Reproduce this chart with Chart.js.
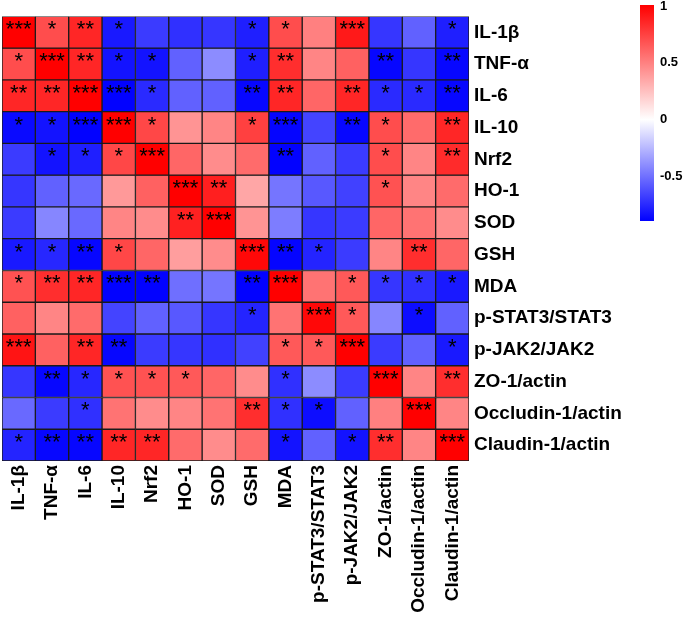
<!DOCTYPE html>
<html>
<head>
<meta charset="utf-8">
<script src="https://cdn.jsdelivr.net/npm/chart.js@4/dist/chart.umd.min.js"></script>
<style>
  body { margin: 0; background: #fff; }
  canvas { display: block; }
</style>
</head>
<body>
<canvas id="heatmap" width="685" height="623"></canvas>
<script>
// Variables (same order on both axes)
const labels = ['IL-1β', 'TNF-α', 'IL-6', 'IL-10', 'Nrf2', 'HO-1', 'SOD', 'GSH', 'MDA',
  'p-STAT3/STAT3', 'p-JAK2/JAK2', 'ZO-1/actin', 'Occludin-1/actin', 'Claudin-1/actin'];

// Correlation coefficients, one array per row
const rIL1b     = [1.00, 0.70, 0.85, -0.80, -0.68, -0.72, -0.70, -0.78, 0.70, 0.50, 0.90, -0.70, -0.55, -0.78];
const rTNFa     = [0.70, 1.00, 0.85, -0.82, -0.82, -0.55, -0.40, -0.78, 0.82, 0.48, 0.62, -0.86, -0.70, -0.86];
const rIL6      = [0.85, 0.85, 1.00, -0.88, -0.74, -0.55, -0.55, -0.86, 0.85, 0.60, 0.85, -0.74, -0.74, -0.86];
const rIL10     = [-0.85, -0.82, -0.88, 1.00, 0.72, 0.42, 0.48, 0.75, -0.87, -0.65, -0.86, 0.70, 0.58, 0.85];
const rNrf2     = [-0.68, -0.82, -0.78, 0.72, 1.00, 0.60, 0.45, 0.58, -0.88, -0.55, -0.68, 0.70, 0.48, 0.83];
const rHO1      = [-0.70, -0.55, -0.52, 0.40, 0.62, 1.00, 0.88, 0.35, -0.48, -0.58, -0.66, 0.68, 0.48, 0.58];
const rSOD      = [-0.68, -0.42, -0.52, 0.48, 0.45, 0.87, 1.00, 0.42, -0.45, -0.70, -0.68, 0.60, 0.55, 0.45];
const rGSH      = [-0.80, -0.75, -0.86, 0.72, 0.60, 0.38, 0.45, 0.97, -0.87, -0.76, -0.68, 0.48, 0.82, 0.60];
const rMDA      = [0.68, 0.82, 0.85, -0.88, -0.88, -0.50, -0.48, -0.88, 1.00, 0.55, 0.65, -0.70, -0.72, -0.80];
const rSTAT3    = [0.62, 0.48, 0.58, -0.65, -0.55, -0.58, -0.70, -0.76, 0.55, 0.97, 0.65, -0.42, -0.84, -0.55];
const rJAK2     = [0.92, 0.62, 0.85, -0.86, -0.68, -0.70, -0.72, -0.66, 0.65, 0.65, 1.00, -0.68, -0.55, -0.80];
const rZO1      = [-0.70, -0.86, -0.75, 0.68, 0.68, 0.65, 0.60, 0.45, -0.72, -0.40, -0.68, 1.00, 0.48, 0.82];
const rOccludin = [-0.52, -0.68, -0.72, 0.55, 0.45, 0.48, 0.55, 0.82, -0.72, -0.84, -0.55, 0.50, 1.00, 0.48];
const rClaudin  = [-0.76, -0.86, -0.86, 0.85, 0.85, 0.58, 0.45, 0.58, -0.82, -0.55, -0.82, 0.82, 0.48, 1.00];

// Significance marks per row
const sIL1b     = ['***', '*', '**', '*', '', '', '', '*', '*', '', '***', '', '', '*'];
const sTNFa     = ['*', '***', '**', '*', '*', '', '', '*', '**', '', '', '**', '', '**'];
const sIL6      = ['**', '**', '***', '***', '*', '', '', '**', '**', '', '**', '*', '*', '**'];
const sIL10     = ['*', '*', '***', '***', '*', '', '', '*', '***', '', '**', '*', '', '**'];
const sNrf2     = ['', '*', '*', '*', '***', '', '', '', '**', '', '', '*', '', '**'];
const sHO1      = ['', '', '', '', '', '***', '**', '', '', '', '', '*', '', ''];
const sSOD      = ['', '', '', '', '', '**', '***', '', '', '', '', '', '', ''];
const sGSH      = ['*', '*', '**', '*', '', '', '', '***', '**', '*', '', '', '**', ''];
const sMDA      = ['*', '**', '**', '***', '**', '', '', '**', '***', '', '*', '*', '*', '*'];
const sSTAT3    = ['', '', '', '', '', '', '', '*', '', '***', '*', '', '*', ''];
const sJAK2     = ['***', '', '**', '**', '', '', '', '', '*', '*', '***', '', '', '*'];
const sZO1      = ['', '**', '*', '*', '*', '*', '', '', '*', '', '', '***', '', '**'];
const sOccludin = ['', '', '*', '', '', '', '', '**', '*', '*', '', '', '***', ''];
const sClaudin  = ['*', '**', '**', '**', '**', '', '', '', '*', '', '*', '**', '', '***'];

// Colour scale limits and colour bar ticks
const scaleMin = -0.886;
const scaleMax = 1;
const colorbarTicks = [1, 0.5, 0, -0.5];

const rows = [rIL1b, rTNFa, rIL6, rIL10, rNrf2, rHO1, rSOD, rGSH, rMDA, rSTAT3, rJAK2, rZO1, rOccludin, rClaudin];
const stars = [sIL1b, sTNFa, sIL6, sIL10, sNrf2, sHO1, sSOD, sGSH, sMDA, sSTAT3, sJAK2, sZO1, sOccludin, sClaudin];

// value -> white/red/blue colour
function cellColor(v) {
  if (v >= 0) {
    const g = Math.round(255 * (1 - Math.min(1, v / scaleMax)));
    return `rgb(255,${g},${g})`;
  }
  const g = Math.round(255 * (1 - Math.min(1, v / scaleMin)));
  return `rgb(${g},${g},255)`;
}

const n = labels.length;
const labelFont = { family: "'Liberation Sans', Arial, sans-serif", size: 19, weight: 'bold' };

// one floating-bar dataset per row, each bar spans one band of the y scale
const datasets = rows.map((vals, r) => ({
  data: vals.map(() => [n - 1 - r, n - r]),
  backgroundColor: vals.map(cellColor),
  borderColor: '#1a1a1a',
  borderWidth: 1,
  borderSkipped: false,
  barPercentage: 1,
  categoryPercentage: 1,
  grouped: false
}));

// stars on top of cells
const starPlugin = {
  id: 'stars',
  afterDatasetsDraw(chart) {
    const ctx = chart.ctx;
    ctx.save();
    ctx.fillStyle = '#000';
    ctx.font = "22px 'Liberation Sans', Arial, sans-serif";
    ctx.textAlign = 'center';
    ctx.textBaseline = 'middle';
    stars.forEach((rowStars, r) => {
      const meta = chart.getDatasetMeta(r);
      rowStars.forEach((s, c) => {
        if (!s) return;
        const bar = meta.data[c];
        ctx.fillText(s, bar.x, (bar.y + bar.base) / 2 - 2);
      });
    });
    ctx.restore();
  }
};

// colour bar on the right
const colorbarPlugin = {
  id: 'colorbar',
  afterDraw(chart) {
    const ctx = chart.ctx;
    const x = chart.width - 45, w = 14;
    const top = 5, bottom = 221;
    const yOf = v => top + (scaleMax - v) / (scaleMax - scaleMin) * (bottom - top);
    const grad = ctx.createLinearGradient(0, top, 0, bottom);
    grad.addColorStop(0, cellColor(scaleMax));
    grad.addColorStop((scaleMax - 0) / (scaleMax - scaleMin), '#ffffff');
    grad.addColorStop(1, cellColor(scaleMin));
    ctx.save();
    ctx.fillStyle = grad;
    ctx.fillRect(x, top, w, bottom - top);
    ctx.fillStyle = '#000';
    ctx.font = "bold 13px 'Liberation Sans', Arial, sans-serif";
    ctx.textAlign = 'left';
    ctx.textBaseline = 'middle';
    colorbarTicks.forEach(t => {
      ctx.fillText(String(t), x + w + 6, Math.max(yOf(t), 6));
    });
    ctx.restore();
  }
};

new Chart(document.getElementById('heatmap'), {
  type: 'bar',
  data: { labels: labels, datasets: datasets },
  options: {
    responsive: false,
    animation: false,
    layout: { padding: { left: 2, top: 5, right: 0, bottom: 0 } },
    plugins: { legend: { display: false }, tooltip: { enabled: false } },
    scales: {
      x: {
        grid: { display: false, drawTicks: false },
        border: { display: false },
        ticks: { minRotation: 90, maxRotation: 90, autoSkip: false, padding: 4, color: '#000', font: labelFont },
        afterFit: s => { s.height = 162; }
      },
      y: { type: 'linear', min: 0, max: n, display: false, stacked: false },
      rowLabels: {
        type: 'category',
        labels: labels,
        position: 'right',
        offset: true,
        grid: { display: false, drawTicks: false },
        border: { display: false },
        ticks: { padding: 5, color: '#000', font: labelFont, autoSkip: false },
        afterFit: s => { s.width = 216; }
      }
    }
  },
  plugins: [starPlugin, colorbarPlugin]
});
</script>
</body>
</html>
